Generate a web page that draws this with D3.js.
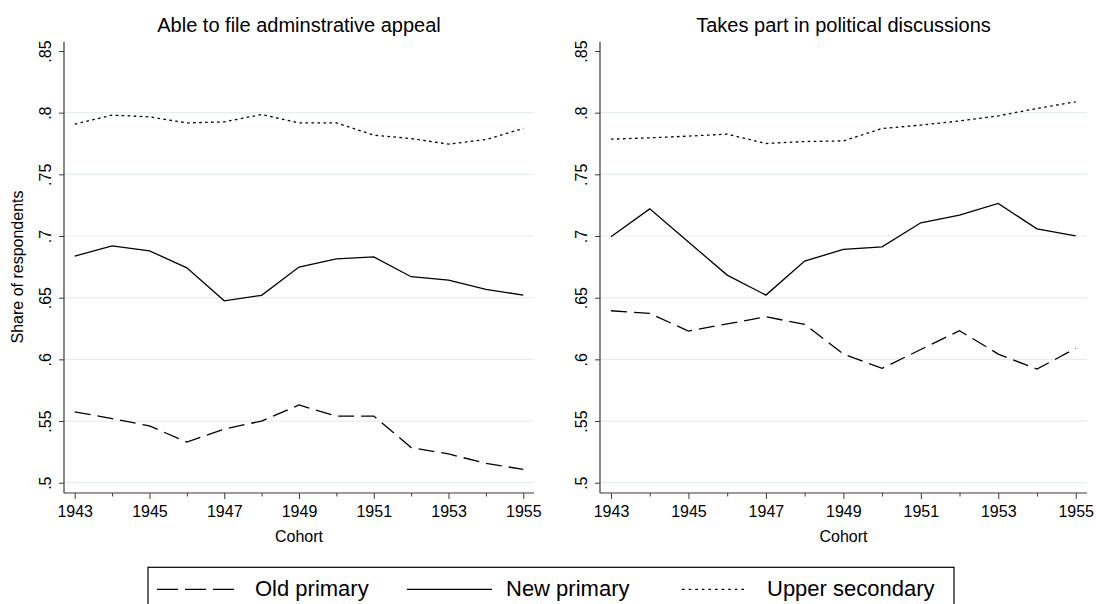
<!DOCTYPE html>
<html>
<head>
<meta charset="utf-8">
<script src="https://cdn.jsdelivr.net/npm/d3@7"></script>
<style>
  html, body { margin: 0; padding: 0; background: #ffffff; }
  svg { display: block; }
  text { font-family: "Liberation Sans", Arial, Helvetica, sans-serif; fill: #000; }
</style>
</head>
<body>
<svg id="chart" width="1096" height="604"></svg>
<script>
// Cohorts on the x axis
const cohorts = [1943, 1944, 1945, 1946, 1947, 1948, 1949, 1950, 1951, 1952, 1953, 1954, 1955];
const xTickLabels = ["1943", "1945", "1947", "1949", "1951", "1953", "1955"];
const yTicks = [0.5, 0.55, 0.6, 0.65, 0.7, 0.75, 0.8, 0.85];
const yTickLabels = [".5", ".55", ".6", ".65", ".7", ".75", ".8", ".85"];
const gridTicks = [0.5, 0.55, 0.6, 0.65, 0.7, 0.75, 0.8];

const panelTitles = ["Able to file adminstrative appeal", "Takes part in political discussions"];
const seriesNames = ["Old primary", "New primary", "Upper secondary"];

// Share able to file an administrative appeal, by schooling
const appealOldPrimary = [0.5575, 0.552, 0.546, 0.533, 0.5435, 0.550, 0.563, 0.554, 0.554, 0.5285, 0.5233, 0.5157, 0.5108];
const appealNewPrimary = [0.6837, 0.692, 0.688, 0.6742, 0.6475, 0.6519, 0.6748, 0.6815, 0.6831, 0.667, 0.6643, 0.6567, 0.6521];
const appealUpperSecondary = [0.7907, 0.798, 0.7966, 0.7917, 0.7925, 0.7985, 0.7917, 0.7917, 0.7818, 0.779, 0.7745, 0.7782, 0.7872];

// Share taking part in political discussions, by schooling
const discussOldPrimary = [0.6394, 0.6373, 0.6229, 0.6288, 0.6345, 0.6284, 0.6043, 0.5927, 0.608, 0.6232, 0.6043, 0.5921, 0.6089];
const discussNewPrimary = [0.6994, 0.722, 0.6952, 0.6683, 0.6521, 0.6797, 0.6891, 0.6912, 0.7107, 0.7169, 0.7264, 0.7058, 0.7002];
const discussUpperSecondary = [0.7785, 0.7796, 0.781, 0.7826, 0.775, 0.7766, 0.7771, 0.7872, 0.7899, 0.7933, 0.7974, 0.8034, 0.8088];

const panelSeries = [
  [appealOldPrimary, appealNewPrimary, appealUpperSecondary],
  [discussOldPrimary, discussNewPrimary, discussUpperSecondary]
];

// Line patterns per schooling group
const dashPatterns = ["16,7", null, "2.6,3.4"];
const lineWidth = 1.3;
const axisColor = "#3a3a3a";
const gridColor = "#e6eef0";

const svg = d3.select("#chart");

// Plot regions: left edge, right edge, inner data range
const panels = [
  { left: 64, right: 534, dataLeft: 74.7, dataRight: 523.3 },
  { left: 600, right: 1087, dataLeft: 611, dataRight: 1075.7 }
];
const plotTop = 41.7, plotBottom = 493;

const y = d3.scaleLinear().domain([0.5, 0.85]).range([482.7, 51]);

panels.forEach((p, i) => {
  const x = d3.scaleLinear().domain([1943, 1955]).range([p.dataLeft, p.dataRight]);
  const g = svg.append("g");

  // gridlines
  g.selectAll("line.grid").data(gridTicks).join("line")
    .attr("class", "grid")
    .attr("x1", p.left).attr("x2", p.right)
    .attr("y1", d => y(d)).attr("y2", d => y(d))
    .attr("stroke", gridColor).attr("stroke-width", 1.2);

  // y axis
  const yAxis = d3.axisLeft(y)
    .tickValues(yTicks)
    .tickFormat((d, k) => yTickLabels[k])
    .tickSize(5)
    .tickSizeOuter(0);
  const yg = g.append("g").attr("transform", `translate(${p.left},0)`).call(yAxis);
  yg.select(".domain").attr("d", `M0,${plotTop}V${plotBottom}`).attr("stroke", axisColor).attr("stroke-width", 1.2);
  yg.selectAll(".tick line").attr("stroke", axisColor).attr("stroke-width", 1);
  yg.selectAll(".tick text")
    .attr("transform", "rotate(-90)")
    .attr("x", 0).attr("y", -13).attr("dy", 0)
    .attr("text-anchor", "middle")
    .style("font-size", "16px")
    .style("font-family", "'Liberation Sans', Arial, sans-serif")
    .attr("fill", "#000");

  // x axis: labelled ticks on odd cohorts, short ticks on even cohorts
  const majors = xTickLabels.map(Number);
  const minors = cohorts.filter(c => !majors.includes(c));
  const xAxis = d3.axisBottom(x)
    .tickValues(majors)
    .tickFormat((d, k) => xTickLabels[k])
    .tickSize(6)
    .tickSizeOuter(0);
  const xg = g.append("g").attr("transform", `translate(0,${plotBottom})`).call(xAxis);
  xg.select(".domain").attr("d", `M${p.left},0H${p.right}`).attr("stroke", axisColor).attr("stroke-width", 1.2);
  xg.selectAll(".tick line").attr("stroke", axisColor).attr("stroke-width", 1);
  xg.selectAll(".tick text")
    .attr("y", 23.5).attr("dy", 0)
    .style("font-size", "16px")
    .style("font-family", "'Liberation Sans', Arial, sans-serif")
    .attr("fill", "#000");
  const xMinor = d3.axisBottom(x).tickValues(minors).tickFormat("").tickSize(3.5).tickSizeOuter(0);
  const xmg = g.append("g").attr("transform", `translate(0,${plotBottom})`).call(xMinor);
  xmg.select(".domain").remove();
  xmg.selectAll(".tick line").attr("stroke", axisColor).attr("stroke-width", 1);

  // x axis title
  g.append("text")
    .attr("x", (p.left + p.right) / 2).attr("y", 541.5)
    .attr("text-anchor", "middle")
    .style("font-size", "16px")
    .text("Cohort");

  // panel title
  g.append("text")
    .attr("x", (p.left + p.right) / 2).attr("y", 32.3)
    .attr("text-anchor", "middle")
    .style("font-size", "20px")
    .text(panelTitles[i]);

  // series lines
  const line = d3.line().x((d, k) => x(cohorts[k])).y(d => y(d));
  panelSeries[i].forEach((vals, s) => {
    g.append("path")
      .datum(vals)
      .attr("d", line)
      .attr("fill", "none")
      .attr("stroke", "#000")
      .attr("stroke-width", lineWidth)
      .attr("stroke-linejoin", "miter")
      .attr("stroke-dasharray", dashPatterns[s]);
  });
});

// y axis title, shared
svg.append("text")
  .attr("transform", `translate(22.5,267) rotate(-90)`)
  .attr("text-anchor", "middle")
  .style("font-size", "16px")
  .text("Share of respondents");

// legend
const legend = svg.append("g");
legend.append("rect")
  .attr("x", 148).attr("y", 567.3)
  .attr("width", 954 - 148).attr("height", 50)
  .attr("fill", "#fff").attr("stroke", "#000").attr("stroke-width", 1.2);

const legendItems = [
  { x1: 157, x2: 240, tx: 255 },
  { x1: 407, x2: 492, tx: 506 },
  { x1: 682, x2: 748, tx: 767 }
];
legendItems.forEach((it, s) => {
  legend.append("line")
    .attr("x1", it.x1).attr("x2", it.x2)
    .attr("y1", 589.3).attr("y2", 589.3)
    .attr("stroke", "#000").attr("stroke-width", lineWidth)
    .attr("stroke-dasharray", s === 0 ? "21,7" : (s === 2 ? "2.6,4" : null));
  legend.append("text")
    .attr("x", it.tx).attr("y", 595.5)
    .style("font-size", "22px")
    .text(seriesNames[s]);
});
</script>
</body>
</html>
